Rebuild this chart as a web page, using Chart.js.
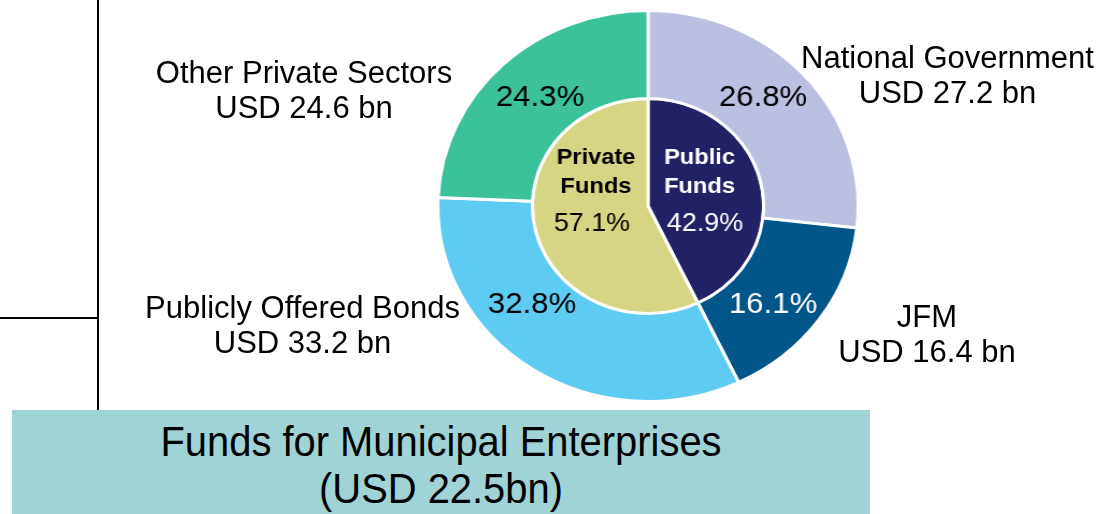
<!DOCTYPE html>
<html>
<head>
<meta charset="utf-8">
<script src="https://cdn.jsdelivr.net/npm/chart.js@4.4.1/dist/chart.umd.min.js"></script>
<style>
  html, body { margin: 0; padding: 0; background: #ffffff; }
  #stage { position: relative; width: 1116px; height: 514px; overflow: hidden; background: #ffffff;
           font-family: "Liberation Sans", Arial, sans-serif; color: #000; }
  .vline { position: absolute; left: 96.5px; top: 0; width: 2px; height: 410px; background: #000; }
  .hline { position: absolute; left: 0; top: 317px; width: 97px; height: 2px; background: #000; }
  .box { position: absolute; left: 12px; top: 410px; width: 858px; height: 110px; background: #9fd3d6; }
  .boxtext { position: absolute; left: 0; width: 858px; top: 8px; text-align: center; font-size: 42px; line-height: 47px;
             transform: scaleX(0.95); transform-origin: 429px 0; }
  #chartWrap { position: absolute; left: 448px; top: 6px; width: 400px; height: 400px;
               transform: scaleX(1.075); transform-origin: 200px 200px; }
  .callout { position: absolute; width: 400px; text-align: center; font-size: 31px; line-height: 35px; white-space: nowrap; }
</style>
</head>
<body>
<div id="stage">
  <div class="vline"></div>
  <div class="hline"></div>
  <div class="box"><div class="boxtext" id="boxText"></div></div>
  <div id="chartWrap"><canvas id="c" width="400" height="400"></canvas></div>
  <div id="callouts"></div>
</div>
<script>
// ---------- data ----------
const outerLabels  = ['National Government', 'JFM', 'Publicly Offered Bonds', 'Other Private Sectors'];
const outerShares  = [26.8, 16.1, 32.8, 24.3];      // % of total
const outerAmounts = [27.2, 16.4, 33.2, 24.6];      // USD bn
const innerLabels  = ['Public Funds', 'Private Funds'];
const innerShares  = [42.9, 57.1];                  // % of total
const boxTitle     = 'Funds for Municipal Enterprises';
const boxAmount    = 22.5;                          // USD bn

// ---------- styles / layout ----------
const outerColors = ['#bcc0e0', '#005589', '#5ecbf2', '#3cc29b'];
const innerColors = ['#232166', '#d6d583'];
const outerTextColors = ['#000000', '#ffffff', '#000000', '#000000'];
const innerTextColors = ['#ffffff', '#000000'];
// nudges (canvas px) from each slice's centroid for the percentage labels
const outerNudge = [[-6, -9.6], [-7.1, 9.1], [-24.3, -29.4], [4.3, -1.1]];
// inner blocks: [dx title, dy line1, dy line2, dx pct, dy pct]
const innerNudge = [[-4.5, -38.1, -9.1, 0.6, 28.4], [4.0, -61.9, -32.9, 0.3, 4.6]];
// callout positions: centre x, first baseline (page px)
const calloutPos = [[947.5, 68], [927, 327], [302.5, 318], [304, 83]];

// ---------- callouts & box ----------
const co = document.getElementById('callouts');
outerLabels.forEach((lab, i) => {
  const d = document.createElement('div');
  d.className = 'callout';
  d.style.left = (calloutPos[i][0] - 200) + 'px';
  d.style.top = (calloutPos[i][1] - 28.3) + 'px';
  d.innerHTML = lab + '<br>USD ' + outerAmounts[i].toFixed(1) + ' bn';
  co.appendChild(d);
});
document.getElementById('boxText').innerHTML = boxTitle + '<br>(USD ' + boxAmount.toFixed(1) + 'bn)';

// ---------- label plugin ----------
const sliceLabels = {
  id: 'sliceLabels',
  afterDatasetsDraw(chart) {
    const ctx = chart.ctx;
    ctx.save();
    ctx.textAlign = 'center';
    ctx.textBaseline = 'alphabetic';
    const font = (w, s) => w + ' ' + s + 'px "Liberation Sans", Arial, sans-serif';
    // outer ring
    chart.getDatasetMeta(0).data.forEach((arc, i) => {
      const p = arc.tooltipPosition();
      const fs = 29;
      ctx.font = font('normal', fs);
      ctx.fillStyle = outerTextColors[i];
      ctx.fillText(outerShares[i].toFixed(1) + '%', p.x + outerNudge[i][0], p.y + outerNudge[i][1] + 0.358 * fs);
    });
    // inner pie
    chart.getDatasetMeta(1).data.forEach((arc, i) => {
      const p = arc.tooltipPosition();
      const n = innerNudge[i];
      const words = innerLabels[i].split(' ');
      ctx.fillStyle = innerTextColors[i];
      const tf = 22;
      ctx.font = font('bold', tf);
      ctx.fillText(words[0], p.x + n[0], p.y + n[1] + 0.358 * tf);
      ctx.fillText(words[1], p.x + n[0], p.y + n[2] + 0.358 * tf);
      const pf = 25;
      ctx.font = font('normal', pf);
      ctx.fillText(innerShares[i].toFixed(1) + '%', p.x + n[3], p.y + n[4] + 0.358 * pf);
    });
    ctx.restore();
  }
};

new Chart(document.getElementById('c'), {
  type: 'doughnut',
  data: {
    labels: outerLabels,
    datasets: [
      { data: outerShares, backgroundColor: outerColors, borderColor: '#ffffff', borderWidth: 3, weight: 88 },
      { data: innerShares, backgroundColor: innerColors, borderColor: '#ffffff', borderWidth: 3, weight: 107.5 }
    ]
  },
  options: {
    responsive: false,
    animation: false,
    devicePixelRatio: 1,
    cutout: 0,
    radius: 195.5,
    layout: { padding: 0 },
    plugins: { legend: { display: false }, tooltip: { enabled: false } }
  },
  plugins: [sliceLabels]
});
</script>
</body>
</html>
